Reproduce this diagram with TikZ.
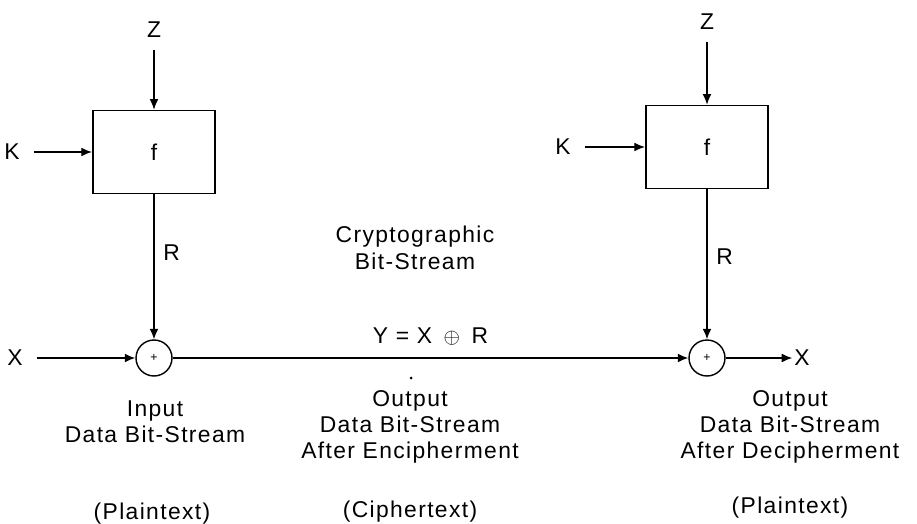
\documentclass[tikz,border=0pt]{standalone}
\usepackage{fontspec}
\setmainfont{Liberation Sans}[LetterSpace=6]
\usetikzlibrary{arrows.meta}

\tikzset{
    lbl/.style={font=\fontsize{13}{15}\selectfont, inner sep=1pt},
    fbox/.style={draw, line width=1pt, minimum width=2.45cm, minimum height=1.66cm, font=\fontsize{13}{15}\selectfont},
    xorsum/.style={draw, circle, line width=0.8pt, minimum size=0.72cm, inner sep=0pt, font=\scriptsize},
    sig/.style={line width=0.7pt, -{Latex[length=6pt,width=5pt]}},
    caption/.style={lbl, align=center}
}

\begin{document}
\begin{tikzpicture}[x=0.02cm, y=-0.02cm]
\useasboundingbox (0,0) rectangle (917,524);

% Encipher side
\node[fbox] (boxL) at (154,152) {f};
\node[lbl] (zL) at (154,30) {Z};
\node[lbl] (kL) at (12,152) {K};
\node[xorsum] (sumL) at (154,358) {+};
\node[lbl] (xL) at (15,358) {X};

\draw[sig] (zL.south) ++(0,10) -- (boxL.north);
\draw[sig] (kL.east) ++(12,0) -- (boxL.west);
\draw[sig] (boxL) -- node[lbl, right=4pt, pos=0.4] {R} (sumL);
\draw[sig] (xL.east) ++(12,0) -- (sumL);

% Decipher side
\node[fbox] (boxR) at (707,147) {f};
\node[lbl] (zR) at (707,22) {Z};
\node[lbl] (kR) at (563,147) {K};
\node[xorsum] (sumR) at (707,358) {+};
\node[lbl] (xR) at (802,358) {X};

\draw[sig] (zR.south) ++(0,10) -- (boxR.north);
\draw[sig] (kR.east) ++(12,0) -- (boxR.west);
\draw[sig] (boxR) -- node[lbl, right=4pt, pos=0.45] {R} (sumR);
\draw[sig] (sumR) -- (xR);

% Channel
\draw[sig] (sumL) -- node[lbl, above=6pt] {Y = X \,$\oplus$\, R} (sumR);
\node[caption] (crypt) at (415,248) {Cryptographic\\Bit-Stream};
\fill (411,378) circle (1.5);

% Captions
\node[caption] (inL) at (155,422) {Input\\Data Bit-Stream};
\node[caption] (outM) at (410,427) {Output\\Data Bit-Stream\\After Encipherment};
\node[caption] (outR) at (790,427) {Output\\Data Bit-Stream\\After Decipherment};
\node[lbl] (ptL) at (152,514) {(Plaintext)};
\node[lbl] (ctM) at (410,512) {(Ciphertext)};
\node[lbl] (ptR) at (790,508) {(Plaintext)};

\end{tikzpicture}
\end{document}
